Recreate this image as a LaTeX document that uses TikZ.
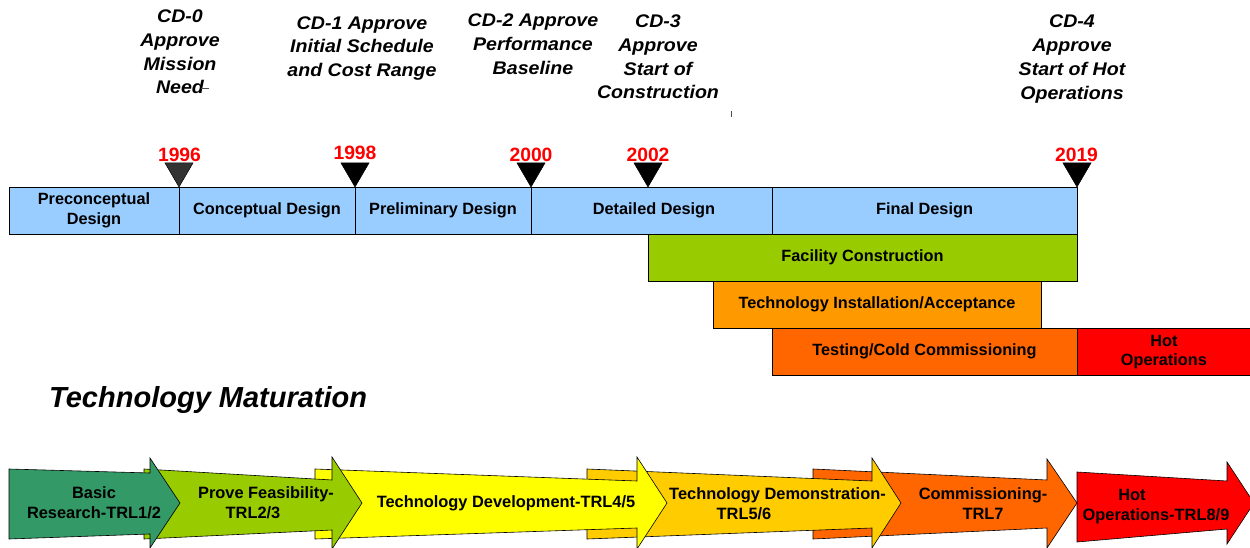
\documentclass[tikz,border=0pt]{standalone}
\usepackage{fontspec}
\setmainfont{Liberation Sans}
\newfontfamily\cdfont{Liberation Sans}[FakeStretch=1.07]
\definecolor{phaseblue}{HTML}{99CCFF}
\definecolor{buildgreen}{HTML}{99CC00}
\definecolor{installorange}{HTML}{FF9900}
\definecolor{testorange}{HTML}{FF6600}
\definecolor{hotred}{HTML}{FF0000}
\definecolor{seagreen}{HTML}{339966}
\definecolor{trlyellow}{HTML}{FFFF00}
\definecolor{trlgold}{HTML}{FFCC00}
\definecolor{milegray}{HTML}{333333}
\begin{document}
\begin{tikzpicture}[x=1pt,y=-1pt,
  box/.style={draw=black, line width=0.8pt, inner sep=0pt, minimum height=47pt,
    align=center, font=\bfseries\fontsize{16.3}{19.5}\selectfont},
  cdlabel/.style={align=center, inner sep=0pt,
    font=\cdfont\bfseries\itshape\fontsize{18.3}{23.8}\selectfont},
  year/.style={text=hotred, inner sep=0pt, font=\bfseries\fontsize{19.3}{22}\selectfont},
  milestone/.style={draw=black, line width=0.5pt},
  trl/.style={draw=black, line width=0.6pt, line join=miter},
  trltext/.style={align=center, inner sep=0pt, font=\bfseries\fontsize{16.4}{20}\selectfont},
  heading/.style={inner sep=0pt, anchor=west, font=\bfseries\itshape\fontsize{29}{33}\selectfont}
]
\useasboundingbox (0,0) rectangle (1250,548);
\clip (0,0) rectangle (1250,548);

% Critical decision labels
\node[cdlabel] (cd0) at (180,52) {CD-0\\Approve\\Mission\\Need};
\node[cdlabel] (cd1) at (362,48.5) {CD-1 Approve\\Initial Schedule\\and Cost Range};
\node[cdlabel] (cd2) at (533,44.5) {CD-2 Approve\\Performance\\Baseline};
\node[cdlabel] (cd3) at (658,57) {CD-3\\Approve\\Start of\\Construction};
\node[cdlabel] (cd4) at (1072,59) {CD-4\\Approve\\Start of Hot\\Operations};
\draw[line width=0.6pt, black!70] (201,88) -- (209,88);
\draw[line width=0.6pt, black!70] (731,111) -- (731,117);

% Project phases
\node[box, fill=phaseblue, minimum width=170pt] (pre) at (94,210.5) {Preconceptual\\Design};
\node[box, fill=phaseblue, minimum width=176pt] (con) at (267,210.5) {Conceptual Design};
\node[box, fill=phaseblue, minimum width=176pt] (prel) at (443,210.5) {Preliminary Design};
\node[box, fill=phaseblue, minimum width=241pt] (det) at (651.5,210.5) {\hspace*{5pt}Detailed Design};
\node[box, fill=phaseblue, minimum width=305pt] (fin) at (924.5,210.5) {Final Design};
\node[box, fill=buildgreen, minimum width=429pt] (fac) at (862.5,257.5) {Facility Construction};
\node[box, fill=installorange, minimum width=328pt] (inst) at (877,304.5) {Technology Installation/Acceptance};
\node[box, fill=testorange, minimum width=305pt] (test) at (924.5,351.5) {Testing/Cold Commissioning};
\node[box, fill=hotred, minimum width=180pt, anchor=west] (hot) at (1077,352) {\hspace*{-7pt}Hot\\\hspace*{-7pt}Operations};

% Milestone markers and years
\foreach \mx/\mc in {179/milegray, 355/black, 531/black, 648/black, 1077/black}
  \filldraw[milestone, fill=\mc] (\mx-14,163) -- (\mx+14,163) -- (\mx,187) -- cycle;
\node[year] (y1996) at (179.5,155) {1996};
\node[year] (y1998) at (355,153) {1998};
\node[year] (y2000) at (531,155) {2000};
\node[year] (y2002) at (648,155) {2002};
\node[year] (y2019) at (1076.5,155) {2019};

\node[heading] (tm) at (49,400) {Technology Maturation};

% Technology readiness arrows (later stages underneath earlier ones)
\filldraw[trl, fill=hotred] (1077,472) -- (1227,481) -- (1227,462) -- (1254,503)
  -- (1227,544) -- (1227,529) -- (1077,542) -- cycle;
\filldraw[trl, fill=testorange] (813,469) -- (1047,480) -- (1047,459) -- (1077,503)
  -- (1047,548) -- (1047,528) -- (813,539) -- cycle;
\filldraw[trl, fill=trlgold] (587,469) -- (872,481) -- (872,458) -- (901,503)
  -- (872,548) -- (872,528) -- (587,539) -- cycle;
\filldraw[trl, fill=trlyellow] (315,469) -- (637,481) -- (637,457) -- (667,503)
  -- (637,549) -- (637,528) -- (315,539) -- cycle;
\filldraw[trl, fill=buildgreen] (144,469) -- (332,480) -- (332,457) -- (362,503)
  -- (332,549) -- (332,530) -- (144,539) -- cycle;
\filldraw[trl, fill=seagreen] (9,469) -- (150,473) -- (150,458) -- (180,503)
  -- (150,548) -- (150,534) -- (9,539) -- cycle;

\node[trltext] (t1) at (94,503) {Basic\\Research-TRL1/2};
\node[trltext] (t2) at (266,503) {Prove Feasibility-\\TRL2/3\hspace*{26pt}};
\node[trltext] (t3) at (506,503) {Technology Development-TRL4/5};
\node[trltext] (t4) at (777.5,503.5) {Technology Demonstration-\\TRL5/6\hspace*{67pt}};
\node[trltext] (t5) at (983,503.5) {Commissioning-\\TRL7};
\node[trltext] (t6) at (1156,506.5) {Hot\hspace*{48pt}\\Operations-TRL8/9};
\end{tikzpicture}
\end{document}
